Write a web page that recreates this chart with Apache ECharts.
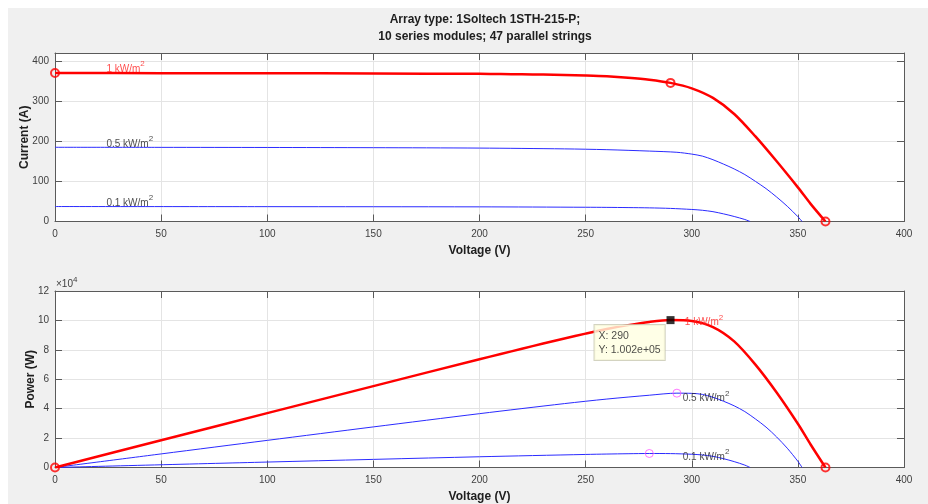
<!DOCTYPE html>
<html>
<head>
<meta charset="utf-8">
<script src="https://cdn.jsdelivr.net/npm/echarts@6/dist/echarts.min.js"></script>
<style>
  html, body { margin: 0; padding: 0; background: #fff; width: 928px; height: 504px; overflow: hidden; }
  #panel { position: absolute; left: 8px; top: 8px; right: 0; bottom: 0; background: #f0f0f0; }
  #chart { position: absolute; left: 0; top: 0; width: 928px; height: 504px; }
</style>
</head>
<body>
<div id="panel"></div>
<div id="chart"></div>
<script>
// PV array characteristics: 1Soltech 1STH-215-P, 10 series x 47 parallel strings

// 1 kW/m2 irradiance
const voltage1k = [0, 50, 100, 150, 200, 210, 220, 230, 240, 250, 260, 270, 280, 290, 300, 310, 320, 330, 340, 350, 356, 363];
const current1k = [370, 369.8, 369.5, 369, 368, 367.5, 367, 366.3, 365.4, 364, 362, 358.5, 353.5, 345.5, 332, 308, 268, 212, 150, 85, 44, 0];
const power1k   = [0, 18490, 36950, 55350, 73600, 77175, 80740, 84250, 87700, 91000, 94120, 96800, 98980, 100200, 99600, 95480, 85760, 69960, 51000, 29750, 15660, 0];

// 0.5 kW/m2 irradiance
const voltage05 = [0, 50, 100, 150, 200, 240, 260, 280, 293, 300, 305, 310, 315, 320, 325, 330, 335, 340, 345, 350, 352];
const current05 = [185, 184.8, 184.5, 184, 183, 181, 179, 175.5, 172.5, 168, 163, 154, 143, 131, 117, 100, 82, 61, 38, 12, 0];
const power05   = [0, 9240, 18450, 27600, 36600, 43440, 46540, 49140, 50540, 50400, 49715, 47740, 45045, 41920, 38025, 33000, 27470, 20740, 13110, 4200, 0];

// 0.1 kW/m2 irradiance
const voltage01 = [0, 100, 200, 250, 260, 270, 280, 290, 300, 305, 310, 315, 320, 325, 327.5];
const current01 = [37.3, 37, 36.5, 35.5, 35.2, 34.7, 34, 32.6, 30, 28, 24.5, 19, 12.5, 5, 0];
const power01   = [0, 3700, 7300, 8875, 9152, 9369, 9520, 9454, 9000, 8540, 7595, 5985, 4000, 1625, 0];

// highlighted points (Isc, MPP, Voc)
const ivMarks1k = [[0, 370], [290, 345.5], [363, 0]];
const pvMarks1k = [[0, 0], [363, 0]];
const pvMppLow  = [[293, 50540], [280, 9520]];
const dataTip   = { x: 290, y: 100200, lines: ['X: 290', 'Y: 1.002e+05'] };

// curve captions [voltage, value, text, colour]
const ivCaptions = [[24, 380, '1 kW/m', '#ff2020'], [24, 193, '0.5 kW/m', '#202020'], [24, 46, '0.1 kW/m', '#202020']];
const pvCaptions = [[296.5, 98600, '1 kW/m', '#ff2020'], [295.5, 47000, '0.5 kW/m', '#202020'], [295.5, 7100, '0.1 kW/m', '#202020']];

const titleLines = ['Array type: 1Soltech 1STH-215-P;', '10 series modules; 47 parallel strings'];

const FONT = 'Liberation Sans, Arial, Helvetica, sans-serif';
const AXIS = '#5a5a5a';
const GRIDC = '#e4e4e4';
const RED = '#ff0000';
const BLUE = '#2b2bff';

const zip = (xs, ys) => xs.map((x, i) => [x, ys[i]]);

function bottomX(g) {
  return {
    type: 'value', gridIndex: g, min: 0, max: 400, interval: 50, position: 'bottom',
    axisLine: { show: true, onZero: false, lineStyle: { color: AXIS, width: 1 } },
    axisTick: { show: true, inside: true, length: 7, lineStyle: { color: AXIS } },
    axisLabel: { color: '#404040', fontSize: 10, margin: 8, fontFamily: FONT },
    splitLine: { show: true, lineStyle: { color: GRIDC, width: 1 } },
    name: 'Voltage (V)', nameLocation: 'middle', nameGap: 23, nameMoveOverlap: false,
    nameTextStyle: { fontWeight: 'bold', fontSize: 12, color: '#202020', fontFamily: FONT }
  };
}
function topX(g) {
  return {
    type: 'value', gridIndex: g, min: 0, max: 400, interval: 50, position: 'top',
    axisLine: { show: true, onZero: false, lineStyle: { color: AXIS, width: 1 } },
    axisTick: { show: true, inside: true, length: 7, lineStyle: { color: AXIS } },
    axisLabel: { show: false }, splitLine: { show: false }
  };
}
function leftY(g, max, interval, name, gap, fmt) {
  return {
    type: 'value', gridIndex: g, min: 0, max: max, interval: interval, position: 'left',
    axisLine: { show: true, onZero: false, lineStyle: { color: AXIS, width: 1 } },
    axisTick: { show: true, inside: true, length: 7, lineStyle: { color: AXIS } },
    axisLabel: { color: '#404040', fontSize: 10, margin: 6, fontFamily: FONT, formatter: fmt,
                 showMaxLabel: max % interval === 0 },
    splitLine: { show: true, lineStyle: { color: GRIDC, width: 1 } },
    name: name, nameLocation: 'middle', nameGap: gap, nameMoveOverlap: false,
    nameTextStyle: { fontWeight: 'bold', fontSize: 12, color: '#202020', fontFamily: FONT }
  };
}
function rightY(g, max, interval) {
  return {
    type: 'value', gridIndex: g, min: 0, max: max, interval: interval, position: 'right',
    axisLine: { show: true, onZero: false, lineStyle: { color: AXIS, width: 1 } },
    axisTick: { show: true, inside: true, length: 7, lineStyle: { color: AXIS } },
    axisLabel: { show: false }, splitLine: { show: false }
  };
}

function curve(name, data, g, color, width) {
  return {
    name: name, type: 'line', xAxisIndex: g * 2, yAxisIndex: g * 2, data: data,
    showSymbol: false, smooth: 0.3, animation: false, z: 3,
    lineStyle: { color: color, width: width }
  };
}
function rings(data, g, color, size, width) {
  return {
    type: 'scatter', xAxisIndex: g * 2, yAxisIndex: g * 2, data: data, animation: false, z: 5,
    symbol: 'circle', symbolSize: size,
    itemStyle: { color: 'rgba(255,255,255,0)', borderColor: color, borderWidth: width }
  };
}
function captions(list, g) {
  return {
    type: 'scatter', xAxisIndex: g * 2, yAxisIndex: g * 2, animation: false, z: 6,
    symbolSize: 1, itemStyle: { color: 'rgba(0,0,0,0)' }, silent: true,
    data: list.map(c => ({ value: [c[0], c[1]], name: c[2],
      label: { rich: {
        b: { color: c[3], fontSize: 10, fontFamily: FONT, lineHeight: 18 },
        s: { color: c[3], fontSize: 8, fontFamily: FONT, lineHeight: 9, verticalAlign: 'top' } } } })),
    label: { show: true, position: 'right', distance: 0, formatter: p => '{b|' + p.name + '}{s|2}' }
  };
}

const tipSeries = {
  type: 'scatter', xAxisIndex: 2, yAxisIndex: 2, animation: false, z: 8,
  data: [[dataTip.x, dataTip.y]], symbol: 'rect', symbolSize: 8,
  itemStyle: { color: '#000' },
  label: {
    show: true, position: [-72, 9], formatter: dataTip.lines.join('\n'),
    backgroundColor: '#ffffe1', borderColor: '#c8c8b0', borderWidth: 1,
    padding: [4, 4, 3, 4], lineHeight: 14, color: '#202020', fontSize: 10.5, fontFamily: FONT
  }
};

const option = {
  backgroundColor: 'transparent',
  animation: false,
  title: {
    text: titleLines.join('\n'), left: 480, top: 6, textAlign: 'center',
    textStyle: { fontSize: 12, fontWeight: 'bold', color: '#202020', lineHeight: 17, fontFamily: FONT }
  },
  grid: [
    { left: 55, top: 53, width: 849, height: 168.5, show: true, backgroundColor: '#fff', borderWidth: 0 },
    { left: 55, top: 291, width: 849, height: 176.5, show: true, backgroundColor: '#fff', borderWidth: 0 }
  ],
  xAxis: [bottomX(0), topX(0), bottomX(1), topX(1)],
  yAxis: [
    leftY(0, 420, 100, 'Current (A)', 24),
    rightY(0, 420, 100),
    leftY(1, 120000, 20000, 'Power (W)', 18, v => String(v / 10000)),
    rightY(1, 120000, 20000)
  ],
  graphic: [{
    type: 'text', left: 56, top: 276,
    style: { text: '{m|×10}{s|4}',
             rich: { m: { fontSize: 10, lineHeight: 16, fill: '#404040', fontFamily: FONT },
                     s: { fontSize: 8, lineHeight: 8, verticalAlign: 'top', fill: '#404040', fontFamily: FONT } } }
  }],
  series: [
    curve('0.1 kW/m2 I', zip(voltage01, current01), 0, BLUE, 1),
    curve('0.5 kW/m2 I', zip(voltage05, current05), 0, BLUE, 1),
    curve('1 kW/m2 I', zip(voltage1k, current1k), 0, RED, 2.5),
    rings(ivMarks1k, 0, RED, 8, 2),
    captions(ivCaptions, 0),
    curve('0.1 kW/m2 P', zip(voltage01, power01), 1, BLUE, 1),
    curve('0.5 kW/m2 P', zip(voltage05, power05), 1, BLUE, 1),
    curve('1 kW/m2 P', zip(voltage1k, power1k), 1, RED, 2.5),
    rings(pvMarks1k, 1, RED, 8, 2),
    rings(pvMppLow, 1, '#ff55ff', 8, 1),
    captions(pvCaptions, 1),
    tipSeries
  ]
};

const chart = echarts.init(document.getElementById('chart'), null, { renderer: 'canvas' });
chart.setOption(option);
</script>
</body>
</html>
